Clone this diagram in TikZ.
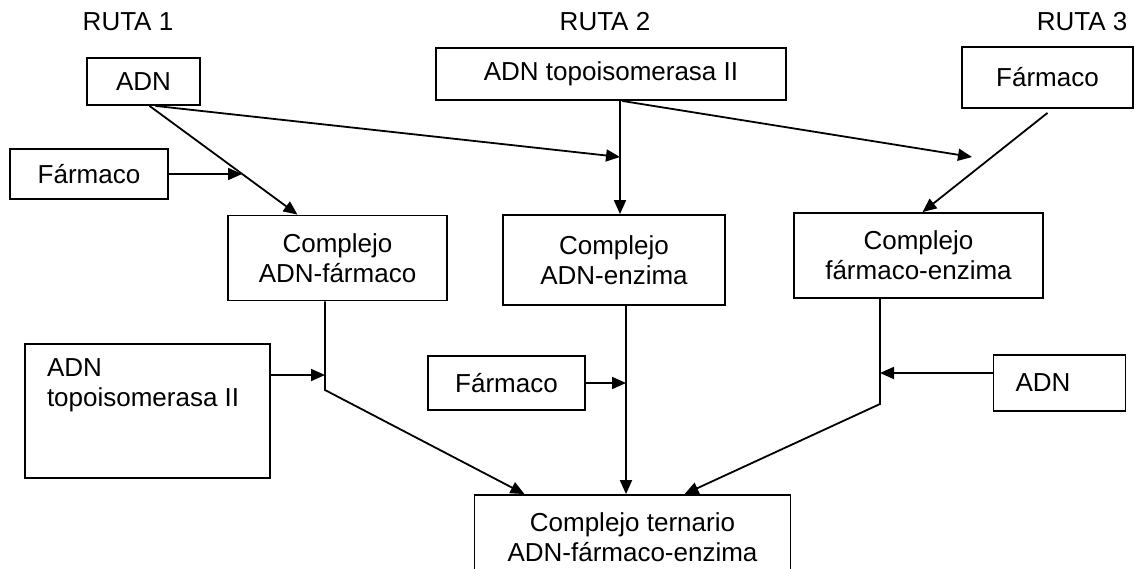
\documentclass[tikz,border=0pt]{standalone}
\usepackage{fontspec}
\setmainfont{Liberation Sans}
\usepackage{tikz}
\usetikzlibrary{math}
\usetikzlibrary{arrows.meta}

\begin{document}
\begin{tikzpicture}[x=0.5pt,y=-0.5pt,line width=0.9pt,
    font=\fontsize{13pt}{15pt}\selectfont,
    caja/.style={draw, align=center, inner sep=2pt},
    flecha/.style={-{Triangle[length=7pt,width=6pt]}}]

  \tikzmath{
    \topcol = 620; % vertical under ADN topoisomerasa II
    \colA   = 325; % ruta 1, lower junction
    \colB   = 626; % ruta 2, lower junction
    \colC   = 880; % ruta 3, lower junction
  }

  \useasboundingbox (0,0) rectangle (1134,568);

  % titles of the three routes
  \node (ruta1) at (128,22)  {RUTA 1};
  \node (ruta2) at (605,22)  {RUTA 2};
  \node (ruta3) at (1082,22) {RUTA 3};

  % first row
  \node[caja, minimum width=56.5pt, minimum height=23.5pt] (adn1)  at (143.5,81.5) {ADN};
  \node[caja, minimum width=175pt,  minimum height=26pt]   (topo2) at (611,74)     {ADN topoisomerasa II};
  \node[caja, minimum width=85.5pt, minimum height=30.5pt] (farm3) at (1047.5,77.5) {Fármaco};
  \node[caja, minimum width=79pt,   minimum height=25pt]   (farm1) at (89,174)     {Fármaco};

  % binary complexes
  \node[caja, minimum width=109.5pt, minimum height=42.5pt] (cplx1) at (337.5,258) {Complejo\\ADN-fármaco};
  \node[caja, minimum width=111pt,   minimum height=45pt]   (cplx2) at (614,260)   {Complejo\\ADN-enzima};
  \node[caja, minimum width=124.5pt, minimum height=42.5pt] (cplx3) at (918.5,255.5) {Complejo\\fármaco-enzima};

  % second inputs
  \node[caja, minimum width=122.5pt, minimum height=67pt] (topo1) at (147.5,411)
    {\parbox[c][52pt][t]{100.5pt}{ADN\\topoisomerasa II}};
  \node[caja, minimum width=78.5pt, minimum height=27pt] (farm2) at (506.5,383) {Fármaco};
  \node[caja, minimum width=66pt, minimum height=28pt, text width=44pt, align=left] (adn3) at (1059.5,383) {ADN};

  % ternary complex
  \node[caja, minimum width=158pt, minimum height=42.5pt] (tern) at (632.5,537.5)
    {Complejo ternario\\ADN-fármaco-enzima};

  % junction points
  \coordinate (jA) at (242,174);
  \coordinate (jB) at (\topcol,157);
  \coordinate (jC) at (972,157);
  \coordinate (mA) at (\colA,375);
  \coordinate (kA) at (\colA,390);
  \coordinate (mB) at (\colB,383);
  \coordinate (mC) at (\colC,373);
  \coordinate (kC) at (\colC,404);

  % upper arrows
  \draw[flecha] ([xshift=3pt]adn1.south) -- ([xshift=-20pt]cplx1.north);
  \draw[flecha] (farm1.east) -- (jA);
  \draw[flecha] ([xshift=6pt]adn1.south) -- (jB);
  \draw[flecha] (jB |- topo2.south) -- (jB |- cplx2.north);
  \draw[flecha] ([xshift=5.5pt]topo2.south) -- (jC);
  \draw[flecha] ([yshift=-2pt]farm3.south) -- ([xshift=2pt]cplx3.north);

  % lower arrows
  \draw[flecha] (kA |- cplx1.south) -- (kA) -- ([xshift=-54pt]tern.north);
  \draw[flecha] (topo1.east |- mA) -- (mA);
  \draw[flecha] (mB |- cplx2.south) -- (mB |- tern.north);
  \draw[flecha] (farm2.east) -- (mB);
  \draw[flecha] (kC |- cplx3.south) -- (kC) -- ([xshift=26pt]tern.north);
  \draw[flecha] (adn3.west |- mC) -- (mC);

\end{tikzpicture}
\end{document}
